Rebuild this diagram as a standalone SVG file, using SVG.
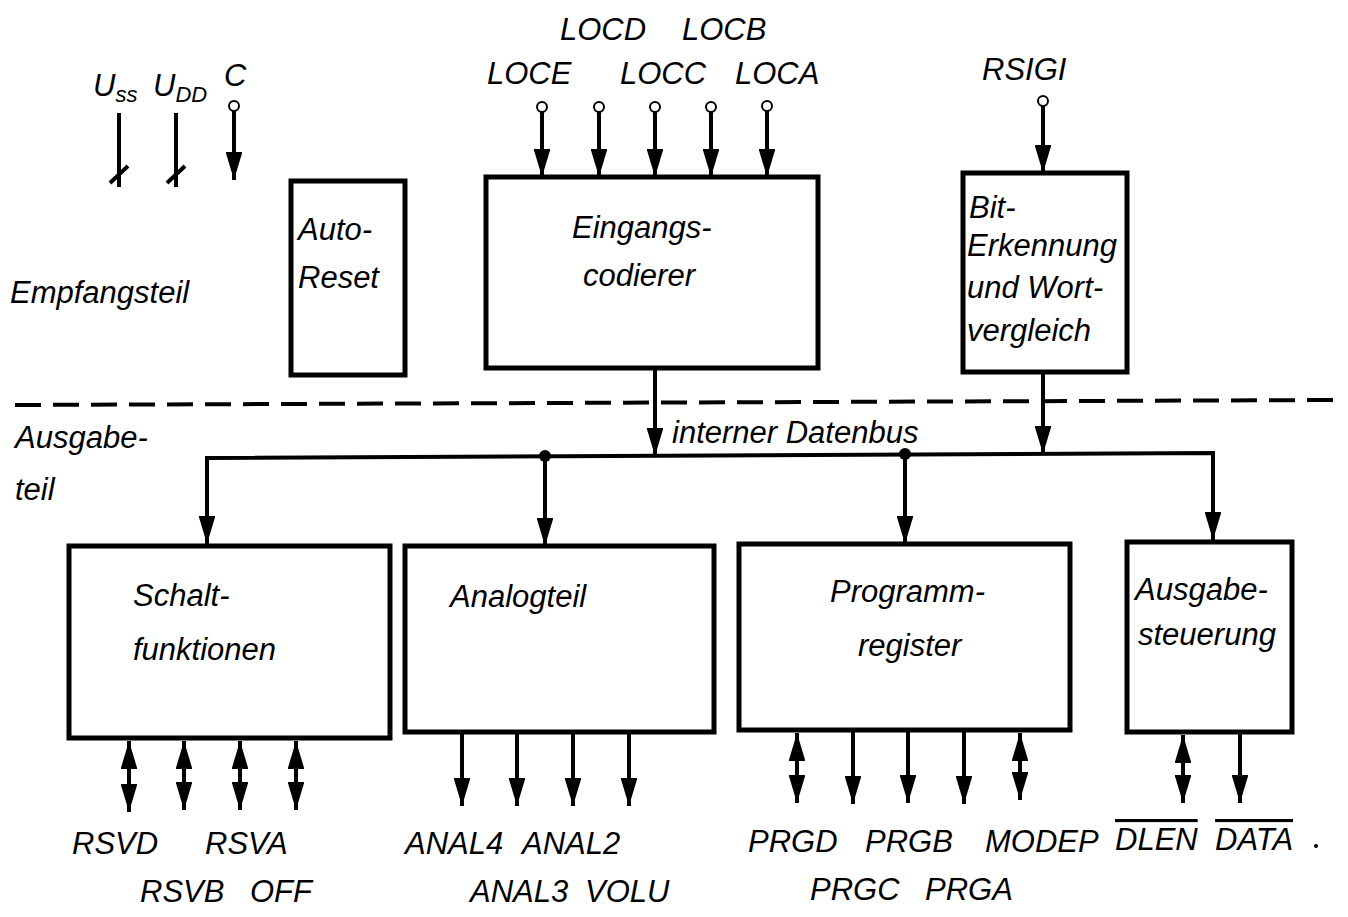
<svg xmlns="http://www.w3.org/2000/svg" width="1348" height="917" viewBox="0 0 1348 917">
<style>
.box{fill:none;stroke:#000;stroke-width:5}
.ln{fill:none;stroke:#000;stroke-width:4}
.t{font-family:"Liberation Sans Narrow","Liberation Sans",sans-serif;font-style:italic;font-size:31px;fill:#000}
.pin{fill:#fff;stroke:#000;stroke-width:2}
</style>
<defs>
<marker id="ah" viewBox="0 0 10 10" refX="10" refY="5" markerWidth="7" markerHeight="4.2" orient="auto" markerUnits="strokeWidth" preserveAspectRatio="none"><path d="M0,0 L10,5 L0,10 z" fill="#000"/></marker>
<marker id="as" viewBox="0 0 10 10" refX="10" refY="5" markerWidth="7" markerHeight="4.2" orient="auto-start-reverse" markerUnits="strokeWidth" preserveAspectRatio="none"><path d="M0,0 L10,5 L0,10 z" fill="#000"/></marker>
</defs>
<rect width="1348" height="917" fill="#fff"/>

<g id="labels">
<text class="t" x="10" y="303">Empfangsteil</text>
<text class="t" x="15" y="448">Ausgabe-</text>
<text class="t" x="15" y="500">teil</text>
<text class="t" x="672" y="443">interner Datenbus</text>
<line x1="15" y1="405" x2="1340" y2="400" stroke="#000" stroke-width="4" stroke-dasharray="26,12"/>
</g>

<g id="power">
<text class="t" x="93" y="96">U<tspan font-size="22" dy="6">ss</tspan></text>
<text class="t" x="153" y="96">U<tspan font-size="22" dy="6">DD</tspan></text>
<text class="t" x="224" y="86">C</text>
<line class="ln" x1="119" y1="113" x2="119" y2="187"/>
<line class="ln" x1="110" y1="183" x2="128" y2="166"/>
<line class="ln" x1="176" y1="113" x2="176" y2="187"/>
<line class="ln" x1="167" y1="183" x2="185" y2="166"/>
<circle class="pin" cx="234" cy="106" r="5"/>
<line class="ln" x1="234" y1="111" x2="234" y2="180" marker-end="url(#ah)"/>
</g>

<g id="autoreset">
<rect class="box" x="291" y="181" width="114" height="194"/>
<text class="t" x="298" y="240">Auto-</text>
<text class="t" x="298" y="288">Reset</text>
</g>

<g id="eingang">
<rect class="box" x="486" y="177" width="332" height="191"/>
<text class="t" x="572" y="238">Eingangs-</text>
<text class="t" x="583" y="286">codierer</text>
</g>

<g id="biterkennung">
<rect class="box" x="963" y="173" width="164" height="199"/>
<text class="t" x="969" y="218">Bit-</text>
<text class="t" x="967" y="256">Erkennung</text>
<text class="t" x="967" y="298">und Wort-</text>
<text class="t" x="967" y="341">vergleich</text>
</g>

<g id="inputs">
<text class="t" x="487" y="84">LOCE</text>
<text class="t" x="560" y="40">LOCD</text>
<text class="t" x="620" y="84">LOCC</text>
<text class="t" x="682" y="40">LOCB</text>
<text class="t" x="735" y="84">LOCA</text>
<text class="t" x="982" y="80">RSIGI</text>
<circle class="pin" cx="542" cy="107" r="5"/>
<circle class="pin" cx="599" cy="107" r="5"/>
<circle class="pin" cx="655" cy="107" r="5"/>
<circle class="pin" cx="711" cy="107" r="5"/>
<circle class="pin" cx="767" cy="106" r="5"/>
<circle class="pin" cx="1043" cy="101" r="5"/>
</g>

<g id="schalt">
<rect class="box" x="69" y="546" width="321" height="192"/>
<text class="t" x="133" y="606">Schalt-</text>
<text class="t" x="133" y="660">funktionen</text>
</g>

<g id="analog">
<rect class="box" x="405" y="546" width="309" height="186"/>
<text class="t" x="450" y="607">Analogteil</text>
</g>

<g id="programm">
<rect class="box" x="739" y="544" width="331" height="186"/>
<text class="t" x="830" y="602">Programm-</text>
<text class="t" x="858" y="656">register</text>
</g>

<g id="ausgabesteuerung">
<rect class="box" x="1127" y="542" width="165" height="190"/>
<text class="t" x="1135" y="600">Ausgabe-</text>
<text class="t" x="1138" y="645">steuerung</text>
</g>

<g id="outlabels">
<text class="t" x="72" y="854">RSVD</text>
<text class="t" x="205" y="854">RSVA</text>
<text class="t" x="140" y="902">RSVB</text>
<text class="t" x="250" y="902">OFF</text>
<text class="t" x="405" y="854">ANAL4</text>
<text class="t" x="522" y="854">ANAL2</text>
<text class="t" x="470" y="902">ANAL3</text>
<text class="t" x="585" y="902">VOLU</text>
<text class="t" x="748" y="852">PRGD</text>
<text class="t" x="865" y="852">PRGB</text>
<text class="t" x="985" y="852">MODEP</text>
<text class="t" x="810" y="900">PRGC</text>
<text class="t" x="925" y="900">PRGA</text>
<text class="t" x="1115" y="850" text-decoration="overline">DLEN</text>
<text class="t" x="1215" y="850" text-decoration="overline">DATA</text>
<circle cx="1316" cy="846" r="2" fill="#000"/>
</g>

<g id="connectors">
<line class="ln" x1="542" y1="112" x2="542" y2="177" marker-end="url(#ah)"/>
<line class="ln" x1="599" y1="112" x2="599" y2="177" marker-end="url(#ah)"/>
<line class="ln" x1="655" y1="112" x2="655" y2="177" marker-end="url(#ah)"/>
<line class="ln" x1="711" y1="112" x2="711" y2="177" marker-end="url(#ah)"/>
<line class="ln" x1="767" y1="111" x2="767" y2="177" marker-end="url(#ah)"/>
<line class="ln" x1="1043" y1="106" x2="1043" y2="173" marker-end="url(#ah)"/>

<line class="ln" x1="655" y1="368" x2="655" y2="456" marker-end="url(#ah)"/>
<line class="ln" x1="1043" y1="372" x2="1043" y2="454" marker-end="url(#ah)"/>
<polyline class="ln" points="207,544 207,458 1213,453 1213,540"/>
<line class="ln" x1="207" y1="470" x2="207" y2="544" marker-end="url(#ah)"/>
<line class="ln" x1="1213" y1="470" x2="1213" y2="540" marker-end="url(#ah)"/>
<circle cx="545" cy="456" r="6" fill="#000"/>
<line class="ln" x1="545" y1="456" x2="545" y2="546" marker-end="url(#ah)"/>
<circle cx="905" cy="454" r="6" fill="#000"/>
<line class="ln" x1="905" y1="454" x2="905" y2="544" marker-end="url(#ah)"/>

<line class="ln" x1="129" y1="741" x2="129" y2="812" marker-start="url(#as)" marker-end="url(#ah)"/>
<line class="ln" x1="184" y1="741" x2="184" y2="810" marker-start="url(#as)" marker-end="url(#ah)"/>
<line class="ln" x1="240" y1="741" x2="240" y2="810" marker-start="url(#as)" marker-end="url(#ah)"/>
<line class="ln" x1="296" y1="741" x2="296" y2="810" marker-start="url(#as)" marker-end="url(#ah)"/>

<line class="ln" x1="462" y1="734" x2="462" y2="806" marker-end="url(#ah)"/>
<line class="ln" x1="517" y1="734" x2="517" y2="806" marker-end="url(#ah)"/>
<line class="ln" x1="573" y1="734" x2="573" y2="806" marker-end="url(#ah)"/>
<line class="ln" x1="629" y1="734" x2="629" y2="806" marker-end="url(#ah)"/>

<line class="ln" x1="797" y1="733" x2="797" y2="803" marker-start="url(#as)" marker-end="url(#ah)"/>
<line class="ln" x1="853" y1="732" x2="853" y2="804" marker-end="url(#ah)"/>
<line class="ln" x1="908" y1="732" x2="908" y2="803" marker-end="url(#ah)"/>
<line class="ln" x1="964" y1="732" x2="964" y2="804" marker-end="url(#ah)"/>
<line class="ln" x1="1020" y1="733" x2="1020" y2="800" marker-start="url(#as)" marker-end="url(#ah)"/>

<line class="ln" x1="1183" y1="735" x2="1183" y2="803" marker-start="url(#as)" marker-end="url(#ah)"/>
<line class="ln" x1="1240" y1="734" x2="1240" y2="803" marker-end="url(#ah)"/>
</g>
</svg>
